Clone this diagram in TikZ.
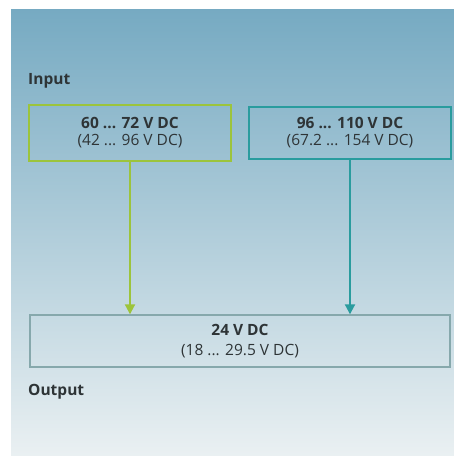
\documentclass[tikz,border=0pt]{standalone}
\usepackage{fontspec}
\setmainfont{Open Sans}
\usepackage{xcolor}
\usepackage{tikz}
\usetikzlibrary{arrows.meta, positioning}

\definecolor{bgtop}{HTML}{76AAC2}
\definecolor{bgbot}{HTML}{EAF0F2}
\definecolor{lowgreen}{HTML}{9CC43C}
\definecolor{highteal}{HTML}{2A9C9E}
\definecolor{outgrey}{HTML}{86A8AC}
\definecolor{txtgrey}{HTML}{2E3436}

\begin{document}
\begin{tikzpicture}[
  x=1pt, y=-1pt,
  node distance=16pt,
  >=Latex,
  box/.style={draw, line width=2pt, align=center, minimum width=202pt, minimum height=56pt, inner sep=2pt, text=txtgrey, font=\fontsize{15.5}{17}\selectfont},
  outbox/.style={box, draw=outgrey, line width=1.4pt, minimum width=420pt, minimum height=52pt, font=\fontsize{15.5}{20}\selectfont},
  tag/.style={anchor=west, inner sep=0pt, text=txtgrey, font=\fontsize{15.5}{17}\selectfont\bfseries},
  arrow/.style={-{Triangle[width=10pt,length=10pt]}, line width=2pt}
]

% background
\fill[white] (0,0) rectangle (454,456);
\shade[top color=bgtop, bottom color=bgbot] (11,9) rectangle (454,456);
\useasboundingbox (0,0) rectangle (454,456);

\node[tag] (lblin) at (28,81) {Input};

\node[box, draw=lowgreen] (inlow) at (130,133) {\textbf{60 ... 72 V DC}\\(42 ... 96 V DC)};

\node[box, draw=highteal, right=of inlow, minimum height=52pt] (inhigh) {\textbf{96 ... 110 V DC}\\(67.2 ... 154 V DC)};

\node[outbox] (out) at (240,341) {\textbf{24 V DC}\\(18 ... 29.5 V DC)};

\node[tag] (lblout) at (28,392) {Output};

\draw[arrow, draw=lowgreen, fill=lowgreen] (inlow) -- (inlow |- out.north);
\draw[arrow, draw=highteal, fill=highteal] (inhigh) -- (inhigh |- out.north);

\end{tikzpicture}
\end{document}
